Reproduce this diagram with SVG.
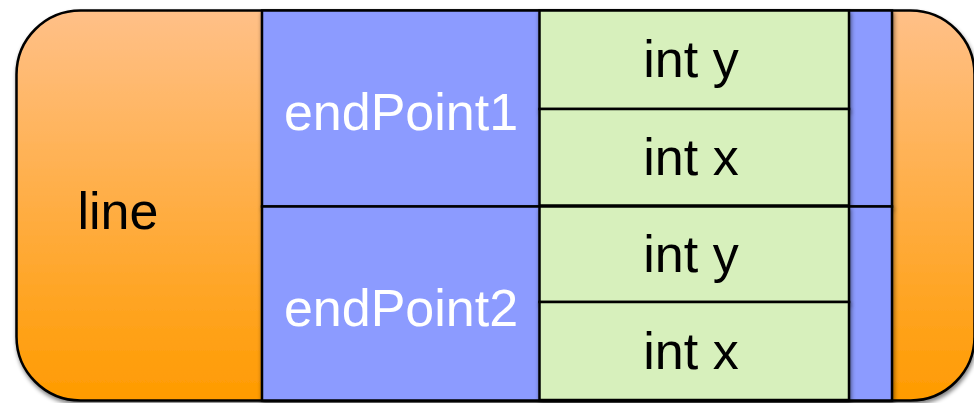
<svg xmlns="http://www.w3.org/2000/svg" width="974" height="403" viewBox="0 0 974 403">
  <defs>
    <linearGradient id="orangeFill" x1="0" y1="0" x2="0" y2="1">
      <stop offset="0" stop-color="#FFC088"/>
      <stop offset="1" stop-color="#FF9B00"/>
    </linearGradient>
    <filter id="shadow" x="-5%" y="-5%" width="110%" height="115%">
      <feGaussianBlur in="SourceAlpha" stdDeviation="2"/>
      <feOffset dx="1" dy="3" result="blur"/>
      <feComponentTransfer><feFuncA type="linear" slope="0.5"/></feComponentTransfer>
      <feMerge><feMergeNode/><feMergeNode in="SourceGraphic"/></feMerge>
    </filter>
  </defs>
  <style>
    .box { stroke: #000; stroke-width: 2.5; filter: url(#shadow); }
    .outer { fill: url(#orangeFill); }
    .blue { fill: #8C9BFF; }
    .green { fill: #D7F0BC; }
    .lbl { font-family: "Liberation Sans", Arial, sans-serif; font-size: 52px; text-anchor: middle; }
    .dark { fill: #000; }
    .light { fill: #fff; }
  </style>

  <!-- struct "line" -->
  <g id="line">
    <rect class="box outer" x="16.5" y="10.5" width="958" height="390" rx="64" ry="64"/>
    <text class="lbl dark" x="118" y="229">line</text>
  </g>

  <!-- member endPoint1 with its fields -->
  <g id="endPoint1">
    <rect class="box blue" x="262" y="10.5" width="630" height="196"/>
    <text class="lbl light" x="401" y="130">endPoint1</text>
  </g>
  <g id="endPoint1-y">
    <rect class="box green" x="539.5" y="10.5" width="309.5" height="98.5"/>
    <text class="lbl dark" x="691" y="77">int y</text>
  </g>
  <g id="endPoint1-x">
    <rect class="box green" x="539.5" y="109" width="309.5" height="96.5"/>
    <text class="lbl dark" x="691" y="175">int x</text>
  </g>

  <!-- member endPoint2 with its fields -->
  <g id="endPoint2">
    <rect class="box blue" x="262" y="206.5" width="630" height="194"/>
    <text class="lbl light" x="401" y="326">endPoint2</text>
  </g>
  <g id="endPoint2-y">
    <rect class="box green" x="539.5" y="206.5" width="309.5" height="95.5"/>
    <text class="lbl dark" x="691" y="272">int y</text>
  </g>
  <g id="endPoint2-x">
    <rect class="box green" x="539.5" y="302" width="309.5" height="98"/>
    <text class="lbl dark" x="691" y="369">int x</text>
  </g>

  <g id="connectors"/>
</svg>
